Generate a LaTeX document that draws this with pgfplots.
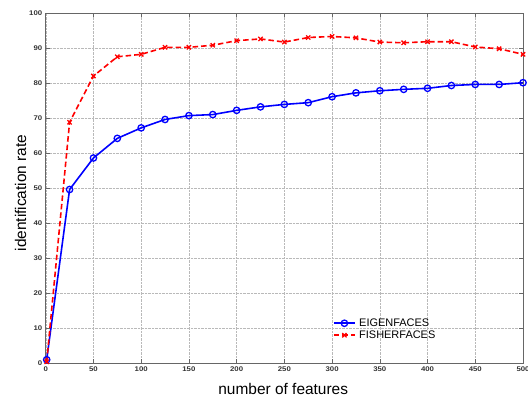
\documentclass[border=0pt]{standalone}
\usepackage{fontspec}
\setmainfont{Liberation Sans}
\newfontfamily\tickfont[FakeStretch=1.15]{Liberation Sans}
\usepackage{pgfplots}
\pgfplotsset{compat=1.18}
\pgfplotstableread{
x eig fis
1 1.0 0.4
25 49.6 68.8
50 58.6 82.0
75 64.2 87.5
100 67.2 88.2
125 69.6 90.2
150 70.7 90.2
175 71.0 90.8
200 72.2 92.1
225 73.2 92.6
250 73.9 91.7
275 74.4 93.0
300 76.1 93.3
325 77.2 92.9
350 77.8 91.7
375 78.2 91.5
400 78.5 91.8
425 79.3 91.8
450 79.6 90.3
475 79.6 89.8
500 80.1 88.2
}\datatable
\begin{document}
\begin{tikzpicture}
\begin{axis}[name=ax, scale only axis, width=477bp, height=350bp,
  xmin=0, xmax=500, ymin=0, ymax=100,
  xtick={0,50,...,500}, ytick={0,10,...,100},
  grid=major, grid style={densely dotted, gray!55, line width=0.45pt},
  axis line style={gray!80!black, line width=0.6pt},
  tick style={gray!80!black, line width=0.5pt},
  tick align=inside,
  ticklabel style={font=\tickfont\bfseries\fontsize{6.8}{8}\selectfont, text=black!80},
  /pgf/number format/assume math mode=true,
  xlabel={number of features}, ylabel={identification rate},
  label style={font=\fontsize{15.5}{18}\selectfont},
  xlabel style={at={(axis description cs:0.4976,-0.0886)}, anchor=base},
  ylabel style={at={(axis description cs:-0.0413,0.486)}, anchor=base},
  legend style={draw=none, fill=none, at={(0.6017,0.097)}, anchor=west,
    font=\fontsize{11}{12}\selectfont, inner sep=0pt, row sep=-1.2pt,
    column sep=1.5bp, nodes={inner sep=2pt}},
  legend cell align=left,
  legend image code/.code={\draw[mark repeat=2,mark phase=2] plot coordinates {(0bp,0bp) (10.5bp,0bp) (21bp,0bp)};},
  ]
\addplot[blue, line width=1.6pt, mark=o, mark size=3.2bp, mark options={solid, line width=1.3pt}] table[x=x,y=eig] {\datatable};
\addlegendentry{EIGENFACES}
\addplot[red, line width=1.6pt, dash pattern=on 5.5bp off 3bp, mark=x, mark size=3bp, mark options={solid, line width=1.3pt}] table[x=x,y=fis] {\datatable};
\addlegendentry{FISHERFACES}
\end{axis}
\pgfresetboundingbox
\path ([shift={(-45.7bp,-33bp)}]ax.south west) rectangle ([shift={(5bp,13bp)}]ax.north east);
\end{tikzpicture}
\end{document}
